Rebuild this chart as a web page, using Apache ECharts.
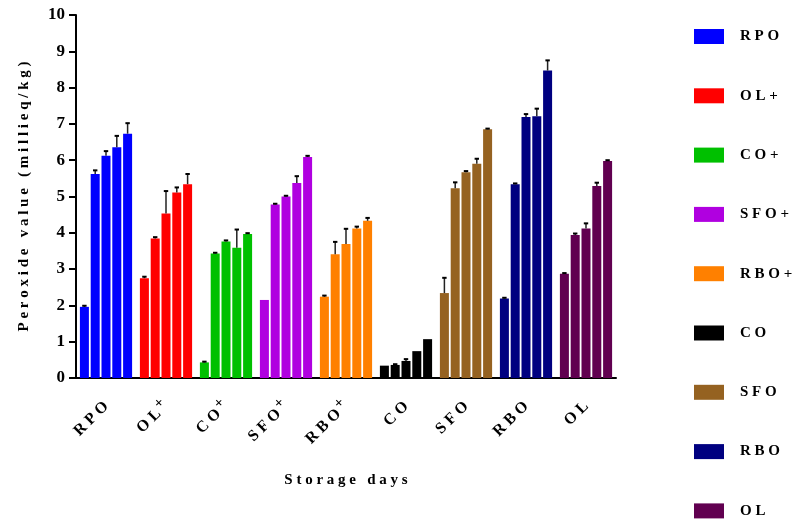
<!DOCTYPE html>
<html>
<head>
<meta charset="utf-8">
<script src="https://cdn.jsdelivr.net/npm/echarts@6/dist/echarts.min.js"></script>
<style>html,body{margin:0;padding:0;background:#fff;}#c{width:809px;height:525px;}</style>
</head>
<body>
<div id="c"></div>
<script>
// Categories (oil groups) and colours
const categories = ['RPO', 'OL+', 'CO+', 'SFO+', 'RBO+', 'CO', 'SFO', 'RBO', 'OL'];
const groupColors = ['#0000FF', '#FF0000', '#00C000', '#B000E0', '#FF8000', '#000000', '#956221', '#000080', '#610050'];
const yTicks = [0, 1, 2, 3, 4, 5, 6, 7, 8, 9, 10];

// Mean peroxide values for 5 storage days per group, and error (upper SD)
const RPO_vals  = [1.96, 5.62, 6.12, 6.36, 6.73];
const RPO_err   = [0.03, 0.10, 0.13, 0.31, 0.29];
const OLp_vals  = [2.75, 3.84, 4.53, 5.11, 5.34];
const OLp_err   = [0.04, 0.04, 0.62, 0.14, 0.28];
const COp_vals  = [0.43, 3.43, 3.76, 3.59, 3.97];
const COp_err   = [0.02, 0.02, 0.03, 0.50, 0.02];
const SFOp_vals = [2.15, 4.78, 5.00, 5.37, 6.09];
const SFOp_err  = [0.00, 0.02, 0.02, 0.19, 0.03];
const RBOp_vals = [2.24, 3.41, 3.69, 4.12, 4.33];
const RBOp_err  = [0.03, 0.34, 0.42, 0.05, 0.08];
const CO_vals   = [0.34, 0.36, 0.47, 0.74, 1.07];
const CO_err    = [0.00, 0.02, 0.05, 0.00, 0.00];
const SFO_vals  = [2.34, 5.23, 5.67, 5.90, 6.85];
const SFO_err   = [0.42, 0.16, 0.03, 0.14, 0.02];
const RBO_vals  = [2.19, 5.34, 7.19, 7.21, 8.47];
const RBO_err   = [0.02, 0.02, 0.08, 0.21, 0.28];
const OL_vals   = [2.87, 3.94, 4.12, 5.29, 5.98];
const OL_err    = [0.02, 0.04, 0.14, 0.09, 0.02];

const allVals = [RPO_vals, OLp_vals, COp_vals, SFOp_vals, RBOp_vals, CO_vals, SFO_vals, RBO_vals, OL_vals];
const allErr  = [RPO_err, OLp_err, COp_err, SFOp_err, RBOp_err, CO_err, SFO_err, RBO_err, OL_err];
const nDays = 5;

const FONT = "'Liberation Serif', 'Times New Roman', serif";
const BAR_W = 9;
const BAR_STEP = 10.8;
const spaced = s => s.split('').join(' ');

const series = [];
for (let d = 0; d < nDays; d++) {
  series.push({
    type: 'bar',
    name: 'day' + (d + 1),
    barWidth: BAR_W,
    barGap: '20%',
    data: categories.map((c, i) => ({ value: allVals[i][d], itemStyle: { color: groupColors[i] } })),
    z: 2
  });
}
const errData = [];
for (let i = 0; i < categories.length; i++) {
  for (let d = 0; d < nDays; d++) {
    errData.push([i, d, allVals[i][d], allErr[i][d]]);
  }
}
series.push({
  type: 'custom',
  name: 'err',
  encode: { x: 0, y: 2 },
  z: 5,
  renderItem: function (params, api) {
    const cat = api.value(0), d = api.value(1), v = api.value(2), e = api.value(3);
    const b = api.coord([cat, v]);
    const t = api.coord([cat, v + e]);
    const x = b[0] + (d - 2) * BAR_STEP;
    const children = [];
    if (e > 0) {
      children.push({ type: 'line', shape: { x1: x, y1: b[1], x2: x, y2: t[1] }, style: { stroke: '#222', lineWidth: 1.5 } });
      children.push({ type: 'line', shape: { x1: x - 2.2, y1: t[1], x2: x + 2.2, y2: t[1] }, style: { stroke: '#000', lineWidth: 2 } });
    }
    return { type: 'group', children: children };
  },
  data: errData
});
// legend entries (one per group)
categories.forEach((c, i) => {
  series.push({ type: 'line', name: c, data: [], itemStyle: { color: groupColors[i] }, lineStyle: { color: groupColors[i] } });
});

const chart = echarts.init(document.getElementById('c'), null, { renderer: 'canvas' });
chart.setOption({
  animation: false,
  backgroundColor: '#fff',
  grid: { left: 76, right: 193, top: 15, bottom: 147, containLabel: false },
  legend: {
    data: categories,
    orient: 'vertical',
    left: 694,
    top: 29,
    padding: 0,
    icon: 'rect',
    itemWidth: 30,
    itemHeight: 15,
    itemGap: 44.3,
    selectedMode: false,
    formatter: n => spaced(n),
    textStyle: { fontFamily: FONT, fontSize: 15, fontWeight: 'bold', color: '#000', padding: [0, 0, 0, 11], lineHeight: 15 }
  },
  xAxis: {
    type: 'category',
    data: categories,
    name: spaced('Storage') + '   ' + spaced('days'),
    nameLocation: 'middle',
    nameGap: 95,
    nameTextStyle: { fontFamily: FONT, fontSize: 15, fontWeight: 'bold', color: '#000' },
    axisLine: { lineStyle: { color: '#000', width: 2 } },
    axisTick: { alignWithLabel: true, length: 6, lineStyle: { color: '#000', width: 2 } },
    axisLabel: {
      rotate: 45,
      margin: 26,
      interval: 0,
      color: '#000',
      fontFamily: FONT, fontSize: 16, fontWeight: 'bold',
      formatter: function (n) {
        if (n.indexOf('+') >= 0) return spaced(n.replace('+', '')) + '{sup|+}';
        return spaced(n);
      },
      rich: { sup: { fontFamily: FONT, fontSize: 15, fontWeight: 'bold', color: '#000', padding: [0, 0, 10, 2] } }
    }
  },
  yAxis: {
    type: 'value',
    min: 0, max: 10, interval: 1,
    name: spaced('Peroxide') + '   ' + spaced('value') + '   ' + spaced('(millieq/kg)'),
    nameLocation: 'middle',
    nameGap: 44,
    nameTextStyle: { fontFamily: FONT, fontSize: 15, fontWeight: 'bold', color: '#000' },
    axisLine: { show: true, lineStyle: { color: '#000', width: 2 } },
    axisTick: { show: true, length: 7, lineStyle: { color: '#000', width: 2 } },
    splitLine: { show: false },
    axisLabel: {
      margin: 11, color: '#000', fontFamily: FONT, fontSize: 17, fontWeight: 'bold',
      formatter: v => yTicks.indexOf(v) >= 0 ? String(v) : ''
    }
  },
  series: series
});
</script>
</body>
</html>
